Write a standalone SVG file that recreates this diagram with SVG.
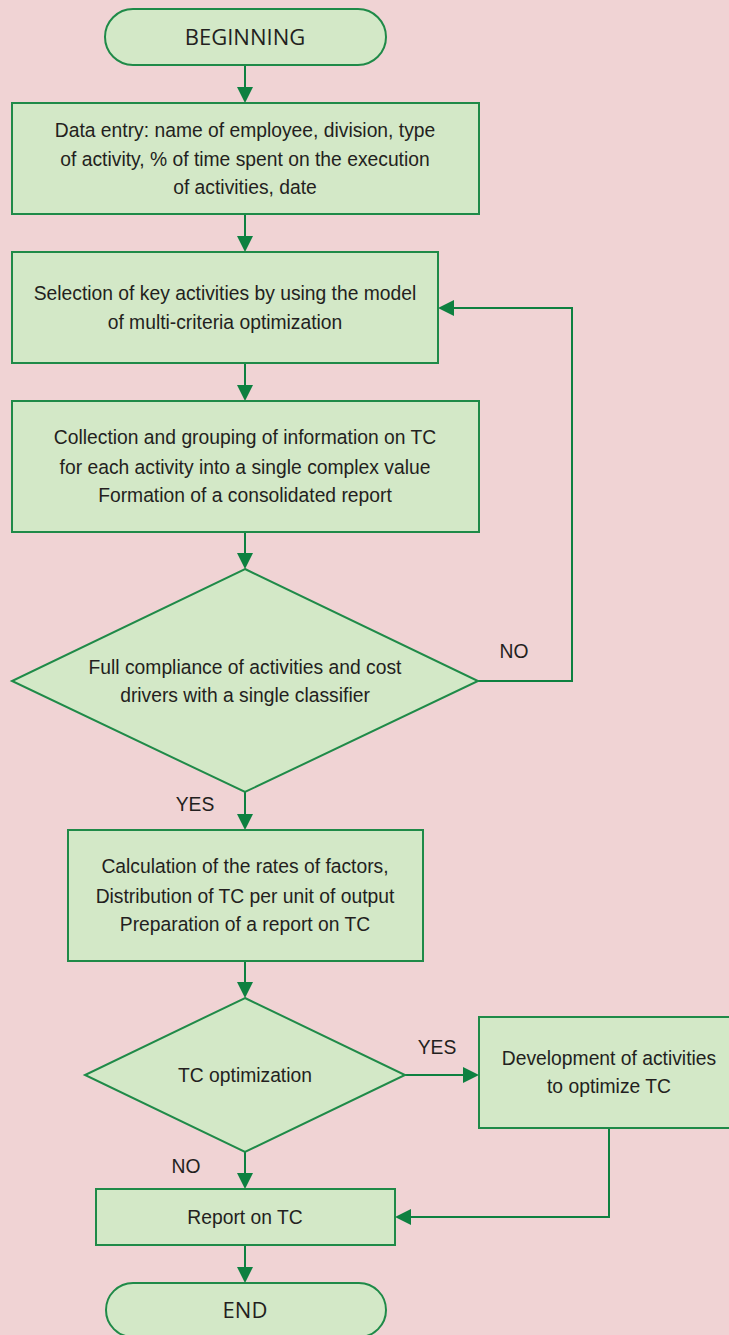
<svg xmlns="http://www.w3.org/2000/svg" width="729" height="1335" viewBox="0 0 729 1335">
  <style>
    .shape { fill: #d3e8c7; stroke: #1f8a48; stroke-width: 2; }
    .label { font-family: "Liberation Sans", Arial, sans-serif; font-size: 19.3px; fill: #231f20; text-anchor: middle; }
    .term { font-family: "Open Sans", "Liberation Sans", sans-serif; font-size: 22px; fill: #231f20; text-anchor: middle; }
    .flow { fill: none; stroke: #0e8040; stroke-width: 2; }
  </style>
  <defs>
    <marker id="arrow" markerUnits="userSpaceOnUse" markerWidth="16" markerHeight="16" refX="6" refY="8" orient="auto">
      <path d="M0,0 L16,8 L0,16 z" fill="#0e8040"/>
    </marker>
  </defs>

  <rect x="0" y="0" width="729" height="1335" fill="#f0d3d4"/>

  <!-- connectors -->
  <g id="connectors">
    <path class="flow" d="M245,65 V93" marker-end="url(#arrow)"/>
    <path class="flow" d="M245,214 V242" marker-end="url(#arrow)"/>
    <path class="flow" d="M245,363 V391" marker-end="url(#arrow)"/>
    <path class="flow" d="M245,532 V559" marker-end="url(#arrow)"/>
    <path class="flow" d="M478,681 H572 V308 H448" marker-end="url(#arrow)"/>
    <path class="flow" d="M245,792 V820" marker-end="url(#arrow)"/>
    <path class="flow" d="M245,961 V988" marker-end="url(#arrow)"/>
    <path class="flow" d="M405,1075 H469" marker-end="url(#arrow)"/>
    <path class="flow" d="M245,1152 V1179" marker-end="url(#arrow)"/>
    <path class="flow" d="M609,1128 V1217 H405" marker-end="url(#arrow)"/>
    <path class="flow" d="M245,1245 V1273" marker-end="url(#arrow)"/>
  </g>

  <g id="start">
    <rect class="shape" x="105" y="9" width="281" height="56" rx="28" ry="28"/>
    <text class="term" x="245" y="45">BEGINNING</text>
  </g>

  <g id="data-entry">
    <rect class="shape" x="12" y="103" width="467" height="111"/>
    <text class="label" x="245" y="137">Data entry: name of employee, division, type</text>
    <text class="label" x="245" y="166">of activity, % of time spent on the execution</text>
    <text class="label" x="245" y="194">of activities, date</text>
  </g>

  <g id="select-activities">
    <rect class="shape" x="12" y="252" width="426" height="111"/>
    <text class="label" x="225" y="300">Selection of key activities by using the model</text>
    <text class="label" x="225" y="329">of multi-criteria optimization</text>
  </g>

  <g id="collect-info">
    <rect class="shape" x="12" y="401" width="467" height="131"/>
    <text class="label" x="245" y="444">Collection and grouping of information on TC</text>
    <text class="label" x="245" y="474">for each activity into a single complex value</text>
    <text class="label" x="245" y="502">Formation of a consolidated report</text>
  </g>

  <g id="compliance-check">
    <polygon class="shape" points="245,569 478,681 245,792 12,681"/>
    <text class="label" x="245" y="674">Full compliance of activities and cost</text>
    <text class="label" x="245" y="702">drivers with a single classifier</text>
    <text class="label" x="514" y="658">NO</text>
    <text class="label" x="195" y="811">YES</text>
  </g>

  <g id="calculate-rates">
    <rect class="shape" x="68" y="830" width="355" height="131"/>
    <text class="label" x="245" y="873">Calculation of the rates of factors,</text>
    <text class="label" x="245" y="903">Distribution of TC per unit of output</text>
    <text class="label" x="245" y="931">Preparation of a report on TC</text>
  </g>

  <g id="tc-optimization">
    <polygon class="shape" points="245,998 405,1075 245,1152 85,1075"/>
    <text class="label" x="245" y="1082">TC optimization</text>
    <text class="label" x="437" y="1054">YES</text>
    <text class="label" x="186" y="1173">NO</text>
  </g>

  <g id="develop-activities">
    <rect class="shape" x="479" y="1017" width="262" height="111"/>
    <text class="label" x="609" y="1065">Development of activities</text>
    <text class="label" x="609" y="1093">to optimize TC</text>
  </g>

  <g id="report">
    <rect class="shape" x="96" y="1189" width="299" height="56"/>
    <text class="label" x="245" y="1224">Report on TC</text>
  </g>

  <g id="end">
    <rect class="shape" x="106" y="1283" width="280" height="54" rx="27" ry="27"/>
    <text class="term" x="245" y="1318">END</text>
  </g>
</svg>
